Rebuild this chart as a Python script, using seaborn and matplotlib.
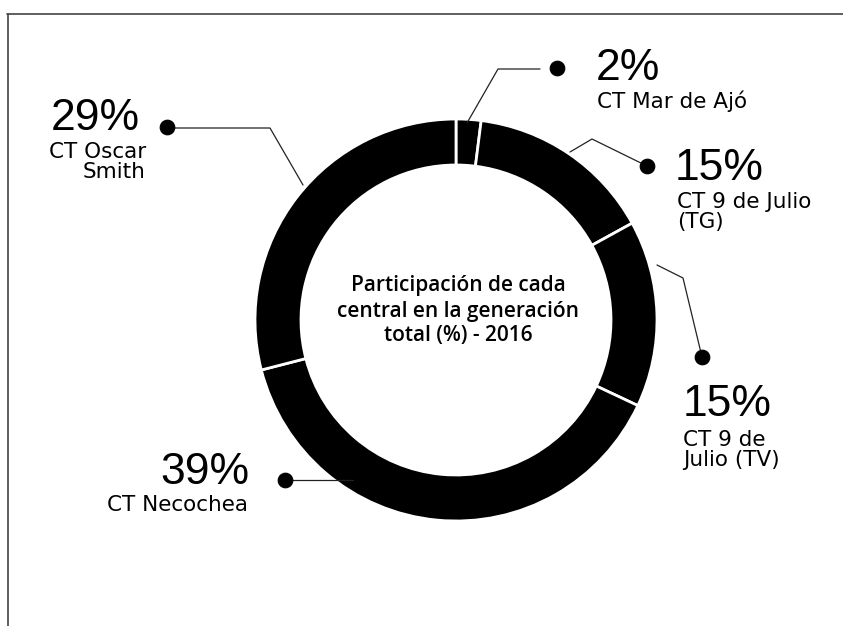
import numpy as np
import pandas as pd
import matplotlib
matplotlib.use('Agg')
import matplotlib.pyplot as plt
import seaborn as sns

# Datos: participación de cada central en la generación total (%) - 2016
centrales = ['CT Mar de Ajó', 'CT 9 de Julio\n(TG)', 'CT 9 de\nJulio (TV)', 'CT Necochea', 'CT Oscar\nSmith']
porcentajes = [2, 15, 15, 39, 29]
titulo = 'Participación de cada\ncentral en la generación\ntotal (%) - 2016'

W, H = 843, 626
# posiciones en pixeles de la imagen (layout)
cx, cy, R, ancho = 456, 320, 201, 46
etiquetas = [
    dict(dot=(557, 68), pct=(596, 68), name=(597, 101), ha='left', path=[(467, 123), (498, 69), (540, 69)]),
    dict(dot=(647, 166), pct=(675, 168), name=(677, 212), ha='left', path=[(570, 152), (592, 139), (647, 166)]),
    dict(dot=(702, 357), pct=(683, 405), name=(683, 450), ha='left', path=[(657, 265), (683, 278), (702, 357)]),
    dict(dot=(285, 480), pct=(249, 472), name=(248, 505), ha='right', path=[(353, 480), (285, 480)]),
    dict(dot=(167, 127), pct=(140, 118), name=(146, 162), ha='right', path=[(303, 185), (270, 128), (167, 128)]),
]

sns.set_theme(style='white')
plt.rcParams['font.family'] = ['DejaVu Sans']

fig = plt.figure(figsize=(W / 100, H / 100), dpi=100)
ax = fig.add_axes([0, 0, 1, 1])

ax.pie(porcentajes, center=(cx, cy), radius=R, startangle=-90, counterclock=True,
       colors=['black'] * len(porcentajes),
       wedgeprops=dict(width=ancho, edgecolor='white', linewidth=2))

# líneas guía
for e in etiquetas:
    xs, ys = zip(*e['path'])
    ax.plot(xs, ys, color='#222222', lw=0.9, zorder=3)

puntos = pd.DataFrame({'x': [e['dot'][0] for e in etiquetas], 'y': [e['dot'][1] for e in etiquetas]})
sns.scatterplot(data=puntos, x='x', y='y', s=110, color='black', edgecolor='black', ax=ax, zorder=4)
ax.set_xlim(0, W)
ax.set_ylim(H, 0)
ax.set_aspect('equal')
ax.axis('off')

for e, c, p in zip(etiquetas, centrales, porcentajes):
    ax.text(e['pct'][0], e['pct'][1], f'{p}%', ha=e['ha'], va='center', fontsize=32,
            family=['Liberation Sans', 'DejaVu Sans'], color='black')
    ax.text(e['name'][0], e['name'][1], c, ha=e['ha'], va='center', fontsize=15.5,
            linespacing=1.0, color='black')

ax.text(cx + 2, 311, titulo, ha='center', va='center', fontsize=15, linespacing=1.25,
        family=['Open Sans', 'DejaVu Sans'], fontweight='semibold', color='black')

# marco
ax.plot([7, W], [14, 14], color='#444444', lw=1.2)
ax.plot([8, 8], [14, H], color='#444444', lw=1.2)

fig.savefig('out.png', dpi=100)
